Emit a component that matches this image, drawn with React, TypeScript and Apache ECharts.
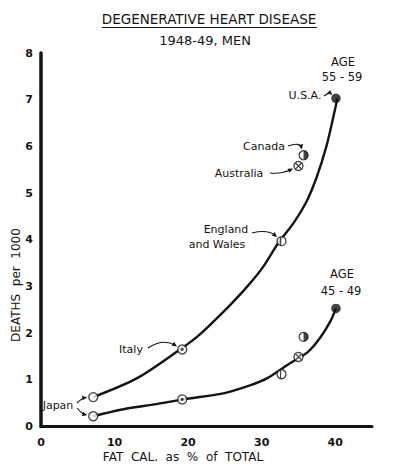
import React, { useEffect, useRef } from 'react';
import * as echarts from 'echarts';

// ---- data ----
const countries = ['Japan', 'Italy', 'England and Wales', 'Australia', 'Canada', 'U.S.A.'];
const fatPct = [7.1, 19.2, 32.7, 35.0, 35.7, 40.1];
const deaths5559 = [0.63, 1.65, 3.97, 5.58, 5.81, 7.03];
const deaths4549 = [0.22, 0.58, 1.12, 1.49, 1.92, 2.53];

// fitted curves as drawn in the reference
const curve5559X = [7.1, 13.0, 18.9, 21.2, 23.4, 25.7, 28.0, 30.2, 32.3, 34.3, 36.1, 37.5, 38.8, 39.7, 40.3];
const curve5559Y = [0.63, 1.03, 1.65, 1.92, 2.24, 2.6, 2.99, 3.42, 3.94, 4.35, 4.82, 5.35, 6.0, 6.6, 7.03];
const curve4549X = [7.1, 11.2, 15.7, 19.3, 24.8, 28.4, 30.7, 33.8, 36.3, 37.9, 39.3, 40.1];
const curve4549Y = [0.22, 0.37, 0.48, 0.58, 0.71, 0.88, 1.03, 1.35, 1.6, 1.89, 2.24, 2.53];

const xTickLabels = ['0', '10', '20', '30', '40'];
const yTickLabels = ['0', '1', '2', '3', '4', '5', '6', '7', '8'];

const titleText = 'DEGENERATIVE HEART DISEASE';
const subtitleText = '1948-49, MEN';
const xName = 'FAT  CAL.  as  %  of  TOTAL';
const yName = 'DEATHS  per  1000';

const FONT = '"DejaVu Sans", sans-serif';
const INK = '#141414';

const pts = (ys: number[], names: string[]) =>
  names.map((n) => {
    const i = countries.indexOf(n);
    return [fatPct[i], ys[i]];
  });
const both = (names: string[]) => [...pts(deaths5559, names), ...pts(deaths4549, names)];

export default function App() {
  const ref = useRef<HTMLDivElement>(null);
  useEffect(() => {
    if (!ref.current) return;
    const chart = echarts.init(ref.current, undefined, { renderer: 'svg' });
    const open = ['Japan', 'Italy', 'England and Wales', 'Australia', 'Canada'];
    const option: any = {
      animation: false,
      backgroundColor: '#ffffff',
      grid: { left: 41, right: 27, top: 53, bottom: 42.5 },
      xAxis: {
        type: 'value',
        min: 0,
        max: 45,
        interval: 10,
        axisLine: { show: true, lineStyle: { color: INK, width: 3 } },
        axisTick: { show: false },
        splitLine: { show: false },
        axisLabel: {
          color: INK,
          fontFamily: FONT,
          fontSize: 11,
          fontWeight: 'bold',
          margin: 10,
          formatter: (v: number) => (xTickLabels.includes(String(v)) ? String(v) : ''),
        },
      },
      yAxis: {
        type: 'value',
        min: 0,
        max: 8,
        interval: 1,
        axisLine: { show: true, lineStyle: { color: INK, width: 3.5 } },
        axisTick: { show: false },
        splitLine: { show: false },
        axisLabel: {
          color: INK,
          fontFamily: FONT,
          fontSize: 11,
          fontWeight: 'bold',
          margin: 8,
          formatter: (v: number) => (yTickLabels.includes(String(v)) ? String(v) : ''),
        },
      },
      series: [
        {
          type: 'line',
          data: curve5559X.map((x, i) => [x, curve5559Y[i]]),
          smooth: 0.3,
          showSymbol: false,
          lineStyle: { color: INK, width: 2.4 },
          z: 2,
        },
        {
          type: 'line',
          data: curve4549X.map((x, i) => [x, curve4549Y[i]]),
          smooth: 0.3,
          showSymbol: false,
          lineStyle: { color: INK, width: 2.4 },
          z: 2,
        },
        {
          type: 'scatter',
          data: both(open),
          symbol: 'circle',
          symbolSize: 9,
          itemStyle: { color: '#fff', borderColor: INK, borderWidth: 1.3 },
          z: 3,
        },
        {
          type: 'scatter',
          data: both(['U.S.A.']),
          symbol: 'circle',
          symbolSize: 9.5,
          itemStyle: { color: INK },
          z: 3,
        },
        {
          type: 'scatter',
          data: both(['Italy']),
          symbol: 'circle',
          symbolSize: 3,
          itemStyle: { color: INK },
          z: 4,
        },
        {
          type: 'scatter',
          data: both(['England and Wales']),
          symbol: 'rect',
          symbolSize: [1.3, 8],
          symbolOffset: [-1, 0],
          itemStyle: { color: INK },
          z: 4,
        },
        {
          type: 'scatter',
          data: both(['Australia']),
          symbol: 'path://M0,0 L10,10 M10,0 L0,10',
          symbolSize: 5.5,
          itemStyle: { color: 'none', borderColor: INK, borderWidth: 1.2 },
          z: 4,
        },
        {
          type: 'scatter',
          data: both(['Canada']),
          symbol: 'path://M0,0 A10,10 0 0,1 0,20 Z',
          symbolSize: [4.5, 9],
          symbolOffset: [2.25, 0],
          itemStyle: { color: INK },
          z: 4,
        },
      ],
    };
    chart.setOption(option);

    const px = (name: string, ys: number[]) => {
      const i = countries.indexOf(name);
      return chart.convertToPixel({ gridIndex: 0 }, [fatPct[i], ys[i]]) as number[];
    };

    const graphics: any[] = [];
    const text = (t: string, x: number, y: number, size = 11, align = 'center') =>
      graphics.push({
        type: 'text',
        x,
        y,
        style: { text: t, fill: INK, font: `${size}px ${FONT}`, align, verticalAlign: 'middle' },
        z: 10,
      });

    const arrow = (tail: number[], ctrl: number[], target: number[], gap = 6) => {
      let dx = target[0] - ctrl[0];
      let dy = target[1] - ctrl[1];
      let L = Math.hypot(dx, dy) || 1;
      const head = [target[0] - (dx / L) * gap, target[1] - (dy / L) * gap];
      dx = head[0] - ctrl[0];
      dy = head[1] - ctrl[1];
      L = Math.hypot(dx, dy) || 1;
      const ux = dx / L;
      const uy = dy / L;
      const nx = -uy;
      const ny = ux;
      graphics.push({
        type: 'bezierCurve',
        shape: { x1: tail[0], y1: tail[1], x2: head[0] - ux * 2, y2: head[1] - uy * 2, cpx1: ctrl[0], cpy1: ctrl[1] },
        style: { stroke: INK, lineWidth: 1.1, fill: 'none' },
        z: 10,
      });
      graphics.push({
        type: 'polygon',
        shape: {
          points: [
            [head[0], head[1]],
            [head[0] - ux * 5 + nx * 2.3, head[1] - uy * 5 + ny * 2.3],
            [head[0] - ux * 5 - nx * 2.3, head[1] - uy * 5 - ny * 2.3],
          ],
        },
        style: { fill: INK },
        z: 10,
      });
    };

    // titles
    text(titleText, 209, 19, 13.5);
    graphics.push({
      type: 'line',
      shape: { x1: 102, y1: 27.5, x2: 317, y2: 27.5 },
      style: { stroke: INK, lineWidth: 1 },
    });
    text(subtitleText, 205, 40, 13);
    text(xName, 183, 457, 12);
    graphics.push({
      type: 'text',
      x: 16,
      y: 285,
      rotation: Math.PI / 2,
      style: { text: yName, fill: INK, font: `12px ${FONT}`, align: 'center', verticalAlign: 'middle' },
    });

    // age labels
    text('AGE', 343, 62, 11.5);
    text('55 - 59', 342, 77, 11.5);
    text('AGE', 342, 274, 11.5);
    text('45 - 49', 341, 291, 11.5);

    // country annotations
    text('U.S.A.', 305, 95);
    arrow([324, 96], [329, 92], px('U.S.A.', deaths5559), 5);
    text('Canada', 264, 146);
    arrow([288, 146], [300, 142], px('Canada', deaths5559), 6);
    text('Australia', 239, 173);
    arrow([270, 173], [282, 174], px('Australia', deaths5559), 6);
    text('England', 226, 229);
    text('and Wales', 217, 244);
    arrow([252, 233], [268, 229], px('England and Wales', deaths5559), 6);
    text('Italy', 131, 349);
    arrow([148, 348], [163, 338], px('Italy', deaths5559), 6);
    text('Japan', 58, 405);
    arrow([77, 403], [82, 398], px('Japan', deaths5559), 6);
    arrow([77, 408], [82, 414], px('Japan', deaths4549), 6);

    chart.setOption({ graphic: graphics });
    return () => chart.dispose();
  }, []);
  return <div ref={ref} style={{ position: 'fixed', left: 0, top: 0, width: 399, height: 469, background: '#fff' }} />;
}
